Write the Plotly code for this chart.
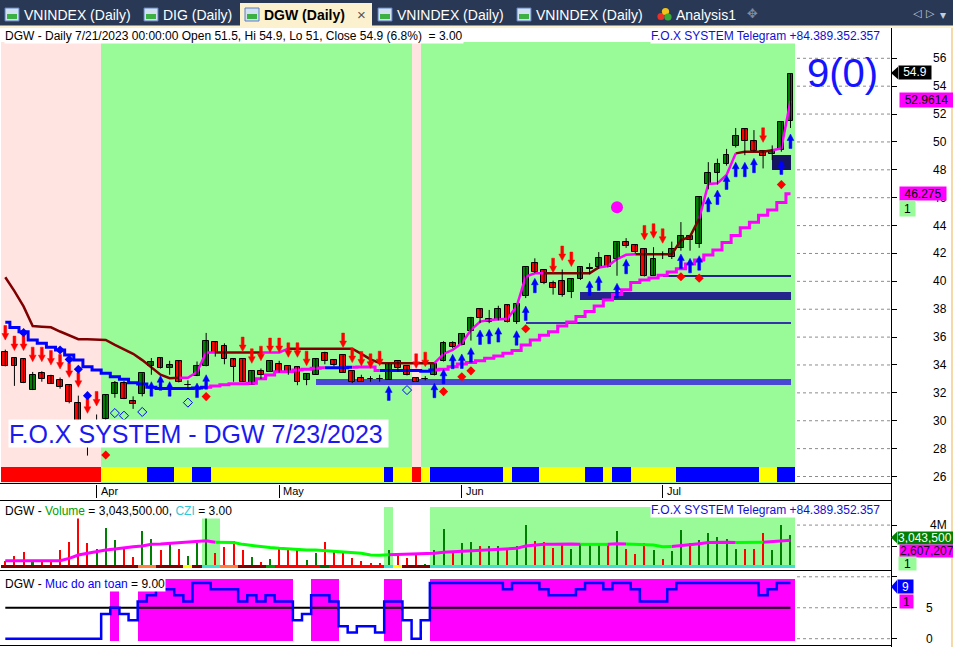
import plotly.graph_objects as go
import pandas as pd

W, H = 953, 647
FONT = "Liberation Sans, Arial, sans-serif"
SYM = "DejaVu Sans, sans-serif"

# ---------------- data ----------------
holidays = {"2023-05-01", "2023-05-02", "2023-05-03"}
dates = [d for d in pd.bdate_range("2023-03-20", "2023-07-21")
         if d.strftime("%Y-%m-%d") not in holidays]
n = len(dates)
idx = list(range(n))

opens = [34.9, 34.5, 34.4, 32.2, 33.4, 33.2, 32.9, 32.55, 31.25, 29.9,
         28.9, 30.15, 31.95, 32.7, 31.45, 31.95, 33.9, 34.5, 33.75, 34.3,
         32.55, 33.2, 33.95, 35.65, 35.35, 34.45, 34.4, 32.6, 33.55, 33.5,
         34.05, 33.9, 33.85, 32.95, 33.3, 34.85, 34.35, 34.7, 33.55, 33.1,
         33.0, 33.0, 32.95, 34.25, 33.9, 33.1, 32.98, 33.25, 34.25, 35.6,
         35.45, 36.45, 38.05, 37.05, 37.25, 38.3, 37.05, 38.95, 41.35, 40.8,
         39.85, 40.05, 39.2, 40.15, 40.9, 41.0, 41.85, 41.6, 42.8, 42.6,
         42.3, 40.4, 41.9, 41.75, 42.4, 43.25, 42.65, 46.95, 47.8, 48.4,
         49.7, 50.9, 50.05, 49.35, 49.1, 49.4, 51.5]
highs = [35.1, 34.5, 34.4, 33.5, 33.55, 33.3, 33.1, 32.55, 31.8, 29.95,
         30.45, 31.9, 32.85, 32.85, 31.75, 33.4, 34.5, 34.5, 34.3, 34.3,
         32.9, 34.25, 36.3, 35.65, 35.55, 34.45, 34.4, 33.55, 33.75, 34.25,
         34.3, 33.9, 33.85, 33.35, 34.45, 34.95, 34.35, 34.7, 33.55, 33.3,
         33.2, 33.3, 34.15, 34.25, 33.9, 33.1, 33.2, 34.05, 35.7, 35.7,
         36.25, 37.45, 38.05, 37.95, 38.25, 38.3, 38.35, 41.0, 41.65, 40.8,
         40.05, 40.85, 40.15, 41.0, 41.3, 42.1, 41.85, 42.8, 43.1, 42.6,
         42.3, 42.45, 42.15, 42.85, 44.25, 43.25, 46.05, 48.55, 48.8, 49.5,
         51.0, 50.95, 50.85, 49.35, 49.75, 51.45, 54.9]
lows = [33.9, 32.5, 32.7, 32.2, 32.8, 32.65, 32.3, 31.25, 29.8, 27.5,
        28.6, 30.0, 31.65, 31.55, 30.85, 31.75, 33.3, 33.75, 33.3, 32.75,
        32.25, 33.2, 33.9, 34.6, 34.05, 32.8, 32.8, 32.6, 33.0, 33.5,
        33.45, 33.3, 32.55, 32.55, 33.3, 34.05, 33.9, 33.45, 32.7, 32.8,
        32.8, 32.8, 32.95, 33.5, 33.25, 32.8, 32.9, 33.25, 34.25, 35.2,
        35.4, 35.75, 37.0, 37.0, 37.2, 37.05, 36.95, 38.8, 40.6, 39.8,
        39.05, 38.9, 38.8, 40.1, 40.5, 40.9, 41.0, 40.4, 42.4, 42.0,
        40.35, 40.4, 41.6, 41.6, 42.2, 42.2, 42.4, 46.6, 46.95, 48.3,
        49.6, 49.05, 49.3, 48.1, 48.7, 49.3, 51.0]
closes = [33.95, 33.95, 32.7, 33.25, 33.0, 32.65, 32.45, 31.35, 29.9, 28.6,
          29.9, 31.85, 32.7, 31.55, 31.2, 33.4, 34.2, 33.75, 34.0, 32.75,
          32.57, 33.95, 35.7, 34.85, 34.4, 33.85, 32.8, 33.55, 33.3, 34.25,
          33.45, 33.5, 32.8, 33.35, 34.45, 34.25, 34.0, 33.45, 32.8, 32.8,
          32.97, 32.98, 34.1, 33.75, 33.25, 32.8, 33.0, 34.05, 35.6, 35.3,
          36.2, 37.35, 37.4, 37.3, 38.0, 37.05, 38.35, 41.0, 40.65, 39.85,
          39.5, 39.0, 40.15, 41.0, 40.95, 41.65, 41.0, 42.8, 42.5, 42.1,
          40.35, 41.6, 41.88, 42.3, 43.25, 42.95, 46.05, 47.8, 48.4, 49.05,
          50.4, 50.05, 49.35, 49.0, 49.35, 51.4, 54.9]

# upper trailing line (dark red / magenta) and lower trailing line (blue / magenta)
upper_trail = [40.29, 39.3, 38.2, 36.8, 36.75, 36.7, 36.4, 36.15, 35.85, 35.84,
               35.84, 35.8, 35.45, 35.1, 34.8, 34.35, 33.85, 33.3, 33.05, 33.08,
               33.08, 33.5, 34.9, 34.9, 34.9, 34.9, 34.9, 34.9, 34.9, 34.9,
               34.9, 35.17, 35.17, 35.17, 35.17, 35.17, 35.17, 35.17, 35.17, 34.8,
               34.4, 34.15, 34.13, 34.13, 34.13, 34.13, 34.13, 34.13, 34.79, 35.08,
               35.56, 36.51, 37.11, 37.23, 37.28, 37.32, 38.19, 40.34, 40.58, 40.58,
               40.58, 40.58, 40.58, 40.58, 40.58, 41.0, 41.1, 41.6, 41.9, 41.94,
               41.94, 41.94, 41.94, 41.94, 42.94, 43.21, 44.5, 46.98, 47.03, 47.63,
               49.18, 49.3, 49.3, 49.3, 49.4, 49.54, 52.9614]
upper_state = "r" * 19 + "m" * 4 + "r" * 5 + "m" * 3 + "r" * 16 + "m" * 12 + \
              "r" * 6 + "m" * 4 + "r" * 7 + "m" * 4 + "r" * 4 + "m" * 3
lower_trail = [37.06, 36.68, 36.39, 35.79, 35.55, 35.27, 35.07, 34.72, 34.36, 33.88,
               33.64, 33.4, 33.16, 32.97, 32.73, 32.63, 32.4, 32.32, 32.32, 32.32,
               32.32, 32.35, 32.4, 32.5, 32.59, 32.66, 32.66, 32.69, 33.02, 33.29,
               33.52, 33.52, 33.64, 33.69, 33.76, 33.81, 33.81, 33.81, 33.83, 33.85,
               33.85, 33.6, 33.6, 33.6, 33.6, 33.6, 33.55, 33.64, 33.69, 33.88,
               34.07, 34.17, 34.31, 34.48, 34.65, 34.84, 35.03, 35.44, 35.79, 36.13,
               36.39, 36.8, 37.09, 37.47, 37.83, 38.23, 38.66, 39.05, 39.4, 39.91,
               40.1, 40.24, 40.43, 40.67, 40.91, 41.25, 41.53, 41.89, 42.25, 42.78,
               43.28, 43.85, 44.23, 44.74, 45.12, 45.65, 46.275]
lower_state = "b" * 22 + "m" * 13 + "b" * 3 + "m" * 3 + "b" * 6 + "m" * 40

background_state = "p" * 11 + "g" * 34 + "p" + "g" * 41
signal_state = "R" * 11 + "Y" * 5 + "B" * 3 + "Y" * 2 + "B" * 2 + "Y" * 19 + "B" + \
               "Y" * 2 + "R" + "Y" + "B" * 8 + "Y" + "B" * 3 + "Y" * 5 + "B" * 2 + \
               "Y" + "B" * 2 + "Y" * 5 + "B" * 9 + "Y" * 2 + "B" * 2

sell_bars = [0, 1, 2, 3, 4, 5, 6, 7, 8, 9, 10, 26, 27, 28, 29, 30, 31, 32, 33,
             37, 38, 39, 40, 41, 45, 46, 60, 61, 62, 70, 71, 72, 83]
sell_tips = [35.79, 35.03, 35.03, 34.24, 34.24, 34.0, 33.71, 33.11, 32.4, 30.53, 31.06,
             34.96, 34.12, 34.31, 34.89, 34.89, 34.55, 34.55, 33.95,
             35.25, 34.17, 33.93, 33.76, 33.95, 33.76, 33.88, 40.62, 41.49, 41.06,
             42.97, 43.09, 42.73, 49.97]
buy_bars = [16, 17, 18, 21, 22, 42, 47, 48, 49, 50, 51, 52, 53, 54, 56, 57, 58, 64, 65,
            67, 68, 74, 75, 76, 77, 78, 79, 80, 81, 82, 85, 86]
buy_tips = [32.8, 33.23, 32.8, 32.7, 33.3, 32.5, 32.69, 33.69, 34.77, 34.79, 35.24,
            36.51, 36.56, 36.68, 36.46, 38.23, 40.22, 40.03, 40.39, 39.86, 41.58,
            41.96, 41.65, 41.84, 46.03, 46.55, 47.63, 48.54, 48.54, 48.83, 48.71, 50.57]
stop_bars = [11, 22, 48, 50, 51, 57, 74, 76, 85]
stop_vals = [27.54, 31.73, 32.09, 33.16, 33.58, 36.6, 40.33, 40.23, 46.94]
blue_dot_bars = [2, 6, 7, 8, 9]
blue_dot_vals = [36.32, 35.07, 34.4, 33.69, 31.8]
hollow_bars = [12, 13, 15, 20, 44]
hollow_vals = [30.55, 30.36, 30.63, 31.3, 32.2]
target_bars = [67]
target_vals = [45.31]

zone_start = [34, 57, 63, 72, 84]
zone_low = [32.53, 36.92, 38.66, 40.33, 47.98]
zone_high = [33.0, 37.08, 39.24, 40.46, 49.07]

volume_m = [0.7, 1.15, 1.55, 0.6, 0.77, 0.77, 1.7, 2.47, 4.78, 2.38,
            1.76, 3.7, 2.62, 1.76, 1.08, 3.48, 2.68, 1.7, 2.3, 1.76,
            1.15, 2.38, 4.78, 1.39, 2.0, 2.53, 1.7, 1.05, 0.63, 0.84,
            1.76, 1.7, 1.76, 0.77, 1.39, 2.4, 1.7, 1.39, 0.92, 0.68,
            0.52, 0.52, 1.7, 1.24, 0.92, 1.39, 0.45, 1.7, 3.6, 1.39,
            2.38, 2.47, 2.1, 2.1, 2.1, 1.7, 2.1, 4.0, 2.53, 2.47,
            1.85, 2.3, 1.76, 2.22, 2.38, 2.22, 2.38, 3.48, 1.76, 1.3,
            2.38, 1.7, 0.84, 1.6, 3.54, 2.38, 2.62, 3.24, 2.93, 2.68,
            1.76, 1.76, 1.76, 3.24, 1.7, 4.0, 3.0435]
volume_ma_m = [0.71, 0.71, 0.71, 0.71, 0.71, 0.71, 0.71, 0.93, 1.24, 1.39,
               1.55, 1.7, 1.79, 1.92, 2.0, 2.07, 2.22, 2.25, 2.32, 2.38,
               2.44, 2.47, 2.56, 2.41, 2.41, 2.38, 2.22, 2.1, 2.0, 1.92,
               1.85, 1.79, 1.73, 1.7, 1.7, 1.64, 1.61, 1.55, 1.48, 1.39,
               1.24, 1.21, 1.27, 1.3, 1.33, 1.33, 1.33, 1.39, 1.48, 1.52,
               1.55, 1.61, 1.64, 1.7, 1.76, 1.79, 1.85, 2.07, 2.16, 2.22,
               2.22, 2.25, 2.25, 2.22, 2.22, 2.19, 2.22, 2.28, 2.25, 2.22,
               2.22, 2.16, 2.0, 2.03, 2.1, 2.19, 2.28, 2.38, 2.41, 2.41,
               2.38, 2.38, 2.35, 2.41, 2.47, 2.56, 2.607207]
czi_state = "D" * 15 + "O" * 2 + "D" * 3 + "Y" + "D" + "T" * 2 + "O" * 2 + "D" * 3 + \
            "G" + "R" * 5 + "K" + "R" * 6 + "T" + "Y" + "D" * 3 + "T" * 40

safety = [0, 0, 0, 0, 0, 0, 0, 0, 0, 0,
          0, 4, 5, 4, 3, 6, 7, 8, 8, 7,
          6, 9, 9, 8, 8, 8, 6, 7, 6, 7,
          6, 6, 3, 4, 7, 7, 6, 2, 1, 2,
          2, 1, 6, 6, 3, 0, 3, 9, 9, 9,
          9, 9, 9, 9, 9, 8, 9, 9, 9, 8,
          7, 7, 7, 8, 9, 9, 8, 9, 9, 8,
          6, 6, 6, 8, 9, 9, 9, 9, 9, 9,
          9, 9, 9, 7, 8, 9, 9]
SAFE_LEVEL = 5

price_ticks = list(range(26, 57, 2))
volume_ticks = [2e6, 4e6]
safety_ticks = [0, 5, 10]

# ---------------- geometry ----------------
X0, XSTEP = 5.3, 9.13
PLOT_R = 891
XRANGE = [-X0 / XSTEP, (PLOT_R - X0) / XSTEP]
Y56, PPU = 58.3, 13.94
P1_TOP, P1_BOT, BAND_TOP = 28, 484, 42
V0_Y, VPM = 568.4, 10.83
P2_TOP, P2_BOT = 501, 570
S0_Y, SPU = 638.7, 6.19
P3_TOP, P3_BOT = 572, 645


def price_at(y): return 56 - (y - Y56) / PPU
def y_of_price(p): return Y56 + (56 - p) * PPU
def vol_at(y): return (V0_Y - y) / VPM * 1e6
def y_of_vol(v): return V0_Y - v / 1e6 * VPM
def safe_at(y): return (S0_Y - y) / SPU
def y_of_safe(s): return S0_Y - s * SPU
def fx(x): return x / W
def fy(y): return 1 - y / H


def runs(states):
    out, start = [], 0
    for i in range(1, len(states) + 1):
        if i == len(states) or states[i] != states[start]:
            out.append((start, i - 1, states[start]))
            start = i
    return out


def split(vals, states, key):
    return [v if (states[i] == key or (i > 0 and states[i - 1] == key)) else None
            for i, v in enumerate(vals)]


fig = go.Figure()
AX = {1: ("x", "y"), 2: ("x2", "y2"), 3: ("x3", "y3")}


def add(tr, k):
    tr.update(xaxis=AX[k][0], yaxis=AX[k][1], hoverinfo="skip", showlegend=False)
    fig.add_trace(tr)


def run_bars(states, cmap, base, top, k):
    xs, ws, cs = [], [], []
    for s, e, st in runs(states):
        if st not in cmap:
            continue
        xs.append((s + e) / 2)
        ws.append(e - s + 1)
        cs.append(cmap[st])
    add(go.Bar(x=xs, y=[top - base] * len(xs), base=[base] * len(xs), width=ws,
               marker=dict(color=cs, line=dict(width=0))), k)


UX, UY = 1 / XSTEP, 1 / PPU


def arrows(bars, tips, down):
    xs, ys = [], []
    s = 1 if down else -1
    hw, hh, sw, tot = 3.4, 6.5, 1.4, 14.5
    pts = [(0, 0), (-hw, hh), (-sw, hh), (-sw, tot), (sw, tot), (sw, hh), (hw, hh), (0, 0)]
    for b, t in zip(bars, tips):
        for dx, dy in pts:
            xs.append(b + dx * UX)
            ys.append(t + s * dy * UY)
        xs.append(None)
        ys.append(None)
    return xs, ys


# ---------------- panel 1: price ----------------
run_bars(background_state, {"p": "#FFE4E1", "g": "#98FB98"}, price_at(P1_BOT), price_at(BAND_TOP), 1)
run_bars(signal_state, {"R": "#FF0000", "Y": "#FFFF00", "B": "#0000FF"}, price_at(482), price_at(466.7), 1)

zone_colors = ["#4848D4", "#3434A8", "#24248C", "#24248C", "#16165E"]
zend = n - 1 + 0.1
add(go.Bar(x=[(s + zend) / 2 for s in zone_start[:4]], width=[zend - s for s in zone_start[:4]],
           base=zone_low[:4], y=[h - l for h, l in zip(zone_high[:4], zone_low[:4])],
           marker=dict(color=zone_colors[:4], line=dict(width=0))), 1)

for key, col in [("r", "#800000"), ("m", "#FF00FF")]:
    add(go.Scatter(x=idx, y=split(upper_trail, upper_state, key), mode="lines",
                   line=dict(color=col, width=2.5)), 1)
for key, col in [("b", "#0000FF"), ("m", "#FF00FF")]:
    add(go.Scatter(x=idx, y=split(lower_trail, lower_state, key), mode="lines",
                   line=dict(color=col, width=3, shape="hvh")), 1)

wx, wy = [], []
for i in idx:
    wx += [i, i, None]
    wy += [lows[i], highs[i], None]
add(go.Scatter(x=wx, y=wy, mode="lines", line=dict(color="black", width=1)), 1)
add(go.Bar(x=idx, base=[min(o, c) for o, c in zip(opens, closes)],
           y=[max(abs(c - o), 0.04) for o, c in zip(opens, closes)], width=0.64,
           marker=dict(color=["#008000" if c > o else "#FF0000" for o, c in zip(opens, closes)],
                       line=dict(color="black", width=1))), 1)

sx, sy = arrows(sell_bars, sell_tips, True)
add(go.Scatter(x=sx, y=sy, mode="lines", fill="toself", fillcolor="#FF0000",
               line=dict(color="#FF0000", width=0.5)), 1)
bx, by = arrows(buy_bars, buy_tips, False)
add(go.Scatter(x=bx, y=by, mode="lines", fill="toself", fillcolor="#0000FF",
               line=dict(color="#0000FF", width=0.5)), 1)
add(go.Scatter(x=stop_bars, y=stop_vals, mode="markers",
               marker=dict(symbol="diamond", size=7, color="#FF0000", line=dict(width=0))), 1)
add(go.Scatter(x=blue_dot_bars, y=blue_dot_vals, mode="markers",
               marker=dict(symbol="diamond", size=7, color="#0000FF", line=dict(width=0))), 1)
add(go.Scatter(x=hollow_bars, y=hollow_vals, mode="markers",
               marker=dict(symbol="diamond-open", size=7, color="#0000FF", line=dict(width=1))), 1)
add(go.Scatter(x=target_bars, y=target_vals, mode="markers",
               marker=dict(symbol="circle", size=12, color="#FF00FF", line=dict(width=0))), 1)
add(go.Bar(x=[(zone_start[4] + zend) / 2], width=[zend - zone_start[4]], base=[zone_low[4]],
           y=[zone_high[4] - zone_low[4]], marker=dict(color=zone_colors[4], line=dict(width=0))), 1)

# ---------------- panel 2: volume ----------------
run_bars(czi_state, {"T": "#98FB98"}, 0, vol_at(506.7), 2)
add(go.Bar(x=idx, y=[v * 1e6 for v in volume_m], width=0.22,
           marker=dict(color=["#008000" if c > o else "#FF0000" for o, c in zip(opens, closes)],
                       line=dict(width=0))), 2)
ma_state = []
for i, v in enumerate(volume_ma_m):
    if i == 0:
        ma_state.append("m")
    elif v > volume_ma_m[i - 1]:
        ma_state.append("m")
    elif v < volume_ma_m[i - 1]:
        ma_state.append("g")
    else:
        ma_state.append(ma_state[-1])
for key, col in [("m", "#FF00FF"), ("g", "#00FF00")]:
    add(go.Scatter(x=idx, y=[None if v is None else v * 1e6 for v in split(volume_ma_m, ma_state, key)],
                   mode="lines", line=dict(color=col, width=3)), 2)
run_bars(czi_state, {"D": "#800000", "O": "#FF8040", "Y": "#FFFF00", "T": "#40E0D0",
                     "G": "#00A000", "R": "#FF0000", "K": "#006400"},
         vol_at(567.7), vol_at(565), 2)

# ---------------- panel 3: safety level ----------------
run_bars(["h" if s >= SAFE_LEVEL else "l" for s in safety], {"h": "#FF00FF"}, -0.3, 9.6, 3)
add(go.Scatter(x=idx, y=[SAFE_LEVEL] * n, mode="lines", line=dict(color="black", width=2)), 3)
add(go.Scatter(x=idx, y=safety, mode="lines", line=dict(color="#0000FF", width=2.5, shape="hvh")), 3)

# ---------------- axes ----------------
month_idx = [i for i in range(1, n) if dates[i].month != dates[i - 1].month]
month_lbl = [dates[i].strftime("%b") for i in month_idx]

xbase = dict(range=XRANGE, domain=[0, PLOT_R / W], showgrid=False, zeroline=False,
             showticklabels=False, fixedrange=True, showline=False)
ybase = dict(side="right", ticks="outside", ticklen=5, tickcolor="black", tickwidth=1,
             showticklabels=False, showgrid=False, zeroline=False, fixedrange=True, showline=False)
fig.update_layout(
    width=W, height=H, autosize=False, margin=dict(l=0, r=0, t=0, b=0, pad=0),
    paper_bgcolor="white", plot_bgcolor="white", showlegend=False,
    barmode="overlay", bargap=0,
    xaxis=dict(xbase, anchor="y", ticks="outside", ticklen=13, tickcolor="black", tickvals=month_idx),
    xaxis2=dict(xbase, anchor="y2"),
    xaxis3=dict(xbase, anchor="y3"),
    yaxis=dict(ybase, anchor="x", domain=[fy(P1_BOT), fy(P1_TOP)],
               range=[price_at(P1_BOT), price_at(P1_TOP)], tickvals=price_ticks),
    yaxis2=dict(ybase, anchor="x2", domain=[fy(P2_BOT), fy(P2_TOP)],
                range=[vol_at(P2_BOT), vol_at(P2_TOP)], tickvals=volume_ticks),
    yaxis3=dict(ybase, anchor="x3", domain=[fy(P3_BOT), fy(P3_TOP)],
                range=[safe_at(P3_BOT), safe_at(P3_TOP)], tickvals=safety_ticks),
)

shapes = []
ann = []


def rect(x0, y0, x1, y1, fill, line=None, lw=0, layer="above"):
    shapes.append(dict(type="rect", xref="paper", yref="paper", x0=fx(x0), x1=fx(x1),
                       y0=fy(y1), y1=fy(y0), fillcolor=fill, layer=layer,
                       line=dict(color=line or fill, width=lw)))


def hline(x0, x1, y, color="black", w=1, dash=None):
    shapes.append(dict(type="line", xref="paper", yref="paper", x0=fx(x0), x1=fx(x1),
                       y0=fy(y), y1=fy(y), layer="above",
                       line=dict(color=color, width=w, dash=dash)))


def vline(x, y0, y1, color="black", w=1):
    shapes.append(dict(type="line", xref="paper", yref="paper", x0=fx(x), x1=fx(x),
                       y0=fy(y0), y1=fy(y1), layer="above", line=dict(color=color, width=w)))


def tri(pts, color):
    p = "M " + " L ".join(f"{fx(x)},{fy(y)}" for x, y in pts) + " Z"
    shapes.append(dict(type="path", xref="paper", yref="paper", path=p, fillcolor=color,
                       line=dict(color=color, width=0), layer="above"))


def text(t, x, y, size=12, color="black", xanchor="left", bg=None, w=None, h=None,
         family=FONT, align="left"):
    d = dict(text=t, x=fx(x), y=fy(y), xref="paper", yref="paper", xanchor=xanchor,
             yanchor="middle", showarrow=False, align=align, borderpad=0,
             font=dict(size=size, color=color, family=family))
    if bg:
        d["bgcolor"] = bg
    if w:
        d["width"] = w
    if h:
        d["height"] = h
    ann.append(d)


# horizontal dotted grid in the right margin
for v in price_ticks:
    hline(797, PLOT_R, y_of_price(v), "#8c8c8c", 1, "dot")
for v in volume_ticks:
    hline(797, PLOT_R, y_of_vol(v), "#8c8c8c", 1, "dot")
for v in safety_ticks:
    hline(797, PLOT_R, y_of_safe(v), "#8c8c8c", 1, "dot")

# panel frames
hline(0, PLOT_R, 483.5)
hline(0, PLOT_R, 500.5)
hline(0, PLOT_R, 570.5)
hline(0, PLOT_R, 645.5)
vline(891.5, 28, 647)
vline(952, 28, 647, "#F3CD8C", 1.5)

# tab bar
rect(0, 0, W, 27, "#293955")
rect(240, 3, 372, 28, "#FCF1CF")
rect(0, 25.5, W, 28, "#FCF1CF")
for x0 in [5, 144, 245, 378, 517]:
    rect(x0, 8, x0 + 14, 21, "#D3E0F2", "#5B7FBF", 1)
    rect(x0 + 2, 14, x0 + 12, 19, "#3CB043")
for cx, cy, col in [(661, 16.5, "#E8302A"), (665.5, 11.5, "#F2C21B"), (668, 17, "#39A935")]:
    shapes.append(dict(type="circle", xref="paper", yref="paper", x0=fx(cx - 3.6), x1=fx(cx + 3.6),
                       y0=fy(cy + 3.6), y1=fy(cy - 3.6), fillcolor=col, line=dict(width=0), layer="above"))
text("VNINDEX (Daily)", 23, 15, 14, "white")
text("DIG (Daily)", 162, 15, 14, "white")
text("<b>DGW (Daily)</b>", 263, 15, 14, "black")
text("×", 356, 14.5, 15, "#555555")
text("VNINDEX (Daily)", 396, 15, 14, "white")
text("VNINDEX (Daily)", 535, 15, 14, "white")
text("Analysis1", 675, 15, 14, "white")
text("✥", 752, 14, 13, "#7E8AA2", "center", family=SYM)
text("◁", 917, 14, 11, "#C6CEDD", "center", family=SYM)
text("▷", 930, 14, 11, "#C6CEDD", "center", family=SYM)
text("▾", 943, 15, 12, "#C6CEDD", "center", family=SYM)

# headers
d = dates[-1]
pct = (closes[-1] / closes[-2] - 1) * 100
hdr = (f"DGW - Daily {d.month}/{d.day}/{d.year} 00:00:00 Open {opens[-1]:g}, Hi {highs[-1]:g}, "
       f"Lo {lows[-1]:g}, Close {closes[-1]:g} ({pct:.1f}%)\u00a0\u00a0= 3.00")
text(hdr, 4, 35.5, 12, "black", bg="white")
text("F.O.X SYSTEM Telegram +84.389.352.357", 650, 35.5, 12, "#1010D0", bg="white")
vol_hdr = (f"DGW - <span style='color:#00A000'>Volume</span> = {volume_m[-1] * 1e6:,.2f}, "
           f"<span style='color:#33C8D8'>CZI</span> = 3.00")
text(vol_hdr, 4, 510.5, 12, "black", bg="white")
text("F.O.X SYSTEM Telegram +84.389.352.357", 650, 510, 12, "#1010D0", bg="white")
text(f"DGW - <span style='color:#0000FF'>Muc do an toan</span> = {safety[-1]:.2f}", 4, 583.5, 12,
     "black", bg="white")

text("F.O.X SYSTEM - DGW 7/23/2023", 8.3, 433.7, 25, "#1A1AF0", bg="white", w=379, h=27)
text("9(0)", 842, 73, 40, "#1414FF", "center")

for i, lbl in zip(month_idx, month_lbl):
    text(lbl, X0 + XSTEP * i + 3, 490.5, 11, "black")

# right axis labels
for v in price_ticks:
    text(str(v), 948, y_of_price(v), 12, "black", "right")
text("4M", 948, y_of_vol(4e6), 12, "black", "right")
text("5", 929, y_of_safe(5), 12, "black", "center")
text("0", 929, y_of_safe(0), 12, "black", "center")

tri([(891, 73), (898, 66.7), (898, 79.3)], "black")
text(f"{closes[-1]:g}", 898, 73, 12, "white", bg="black", w=32, h=12.6, align="center")
text(f"{upper_trail[-1]:g}", 899, 100.5, 12, "black", bg="#FF00FF", w=53, h=14.4, align="center")
text(f"{lower_trail[-1]:g}", 899, 193.4, 12, "black", bg="#FF00FF", w=46, h=13.3, align="center")
text("1", 899, 208.6, 12, "black", bg="#98FB98", w=15, h=15, align="center")

tri([(891, 537.5), (897, 531.7), (897, 543.3)], "#008000")
text(f"{volume_m[-1] * 1e6:,.0f}", 897, 537.5, 12, "white", bg="#008000", w=60, h=11.6, align="left")
text(f"{volume_ma_m[-1] * 1e6:,.0f}", 899, 550.9, 12, "#200020", bg="#FF00FF", w=58, h=11.7, align="left")
text("1", 898, 563.5, 12, "black", bg="#98FB98", w=17, h=13, align="center")

tri([(891, 586.7), (897, 580), (897, 593.4)], "#0000FF")
text(f"{safety[-1]}", 897, 586.7, 12, "white", bg="#0000FF", w=15, h=13.4, align="center")
text("1", 899, 601.7, 12, "black", bg="#FF00FF", w=13, h=13.3, align="center")

fig.update_layout(shapes=shapes, annotations=ann)
fig.write_html("out.html", config={"displayModeBar": False},
               post_script="document.body.style.margin='0';document.body.style.overflow='hidden';")
